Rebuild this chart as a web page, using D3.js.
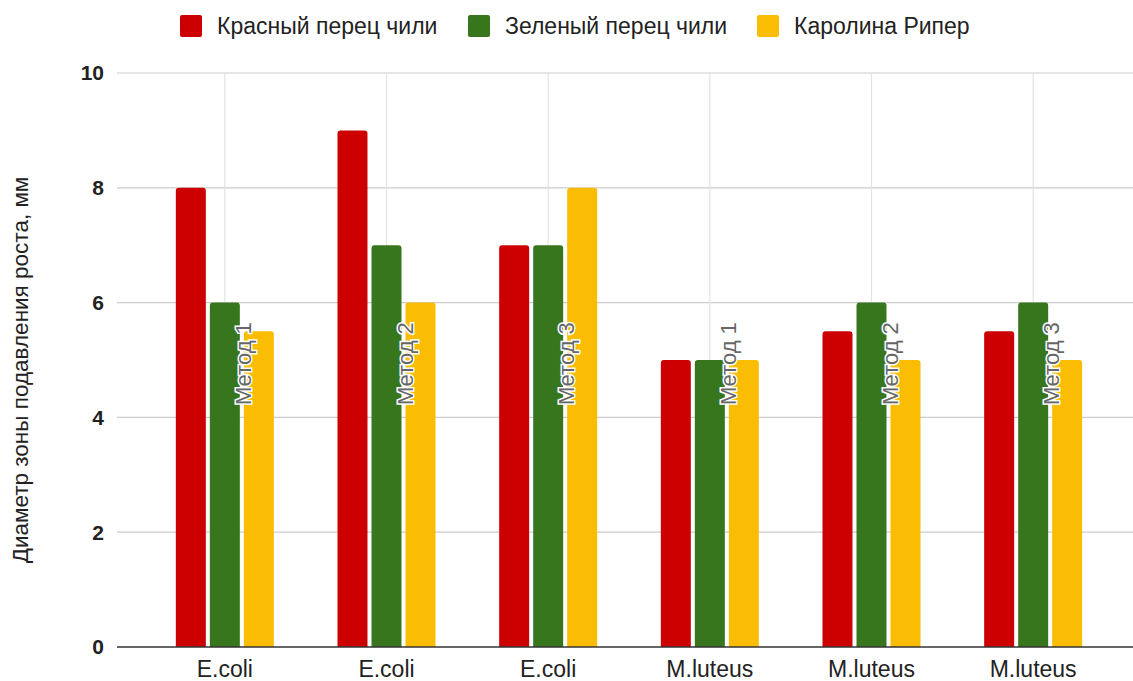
<!DOCTYPE html>
<meta charset="utf-8">
<style>
body { margin: 0; background: #fff; }
text { font-family: "Liberation Sans", Arial, sans-serif; }
</style>
<script src="https://d3js.org/d3.v7.min.js"></script>
<body>
<script>
const categories = ['E.coli', 'E.coli', 'E.coli', 'M.luteus', 'M.luteus', 'M.luteus'];
const methods = ['Метод 1', 'Метод 2', 'Метод 3', 'Метод 1', 'Метод 2', 'Метод 3'];
const seriesNames = ['Красный перец чили', 'Зеленый перец чили', 'Каролина Рипер'];
const redValues = [8, 9, 7, 5, 5.5, 5.5];
const greenValues = [6, 7, 7, 5, 6, 6];
const yellowValues = [5.5, 6, 8, 5, 5, 5];
const yTicks = [0, 2, 4, 6, 8, 10];
const colors = ['#cc0000', '#38761d', '#fbbc04'];

const series = [redValues, greenValues, yellowValues];
const width = 1133, height = 681;

const svg = d3.select('body')
  .append('svg')
    .attr('width', width)
    .attr('height', height);

const x = d3.scaleBand()
  .domain(d3.range(categories.length))
  .range([144, 1114]);

const groupW = 98;
const xInner = d3.scaleBand()
  .domain(d3.range(series.length))
  .range([x.bandwidth() / 2 - groupW / 2, x.bandwidth() / 2 + groupW / 2])
  .paddingInner(0.118);

const y = d3.scaleLinear()
  .domain([0, 10])
  .range([647, 73]);

// horizontal gridlines
svg.append('g')
  .selectAll('line')
  .data(yTicks.filter(d => d > 0))
  .join('line')
    .attr('x1', 117)
    .attr('x2', width)
    .attr('y1', d => y(d))
    .attr('y2', d => y(d))
    .attr('stroke', '#cccccc')
    .attr('stroke-width', 1.2);

// vertical gridlines at category centres
svg.append('g')
  .selectAll('line')
  .data(d3.range(categories.length))
  .join('line')
    .attr('x1', i => x(i) + x.bandwidth() / 2)
    .attr('x2', i => x(i) + x.bandwidth() / 2)
    .attr('y1', y(10))
    .attr('y2', y(0))
    .attr('stroke', '#e3e3e3')
    .attr('stroke-width', 1.2);

// y tick labels
svg.append('g')
  .selectAll('text')
  .data(yTicks)
  .join('text')
    .attr('x', 104)
    .attr('y', d => y(d))
    .attr('dy', '0.35em')
    .attr('text-anchor', 'end')
    .style('font-size', '21px')
    .style('font-weight', 'bold')
    .style('fill', '#222')
    .text(d => d);

// bars
const groups = svg.append('g')
  .selectAll('g')
  .data(d3.range(categories.length))
  .join('g')
    .attr('transform', i => `translate(${x(i)},0)`);

groups.selectAll('path')
  .data(i => series.map((s, k) => ({k: k, v: s[i]})))
  .join('path')
    .attr('fill', d => colors[d.k])
    .attr('d', d => {
      const x0 = xInner(d.k), w = xInner.bandwidth();
      const top = y(d.v), bot = y(0), r = 3;
      return `M${x0},${bot}V${top + r}Q${x0},${top} ${x0 + r},${top}H${x0 + w - r}Q${x0 + w},${top} ${x0 + w},${top + r}V${bot}Z`;
    });

// method labels
groups.append('text')
  .attr('transform', `translate(${x.bandwidth() / 2 + 26},405) rotate(-90)`)
  .style('font-size', '22px')
  .style('fill', '#666')
  .style('stroke', '#fff')
  .style('stroke-width', 3)
  .style('paint-order', 'stroke')
  .text((i) => methods[i]);

// baseline
svg.append('line')
  .attr('x1', 117)
  .attr('x2', width)
  .attr('y1', y(0))
  .attr('y2', y(0))
  .attr('stroke', '#333')
  .attr('stroke-width', 1.5);

// x labels
svg.append('g')
  .selectAll('text')
  .data(d3.range(categories.length))
  .join('text')
    .attr('x', i => x(i) + x.bandwidth() / 2)
    .attr('y', 677)
    .attr('text-anchor', 'middle')
    .style('font-size', '23px')
    .style('fill', '#222')
    .text(i => categories[i]);

// y title
svg.append('text')
  .attr('transform', 'translate(28,370) rotate(-90)')
  .attr('text-anchor', 'middle')
  .style('font-size', '22.5px')
  .style('fill', '#222')
  .text('Диаметр зоны подавления роста, мм');

// legend
const legendX = [180, 468, 757];
const legend = svg.append('g')
  .selectAll('g')
  .data(seriesNames)
  .join('g')
    .attr('transform', (d, i) => `translate(${legendX[i]},15)`);

legend.append('rect')
  .attr('width', 22)
  .attr('height', 22)
  .attr('rx', 2)
  .attr('fill', (d, i) => colors[i]);

legend.append('text')
  .attr('x', 37)
  .attr('y', 11)
  .attr('dy', '0.35em')
  .style('font-size', '23px')
  .style('fill', '#222')
  .text(d => d);
</script>
</body>
